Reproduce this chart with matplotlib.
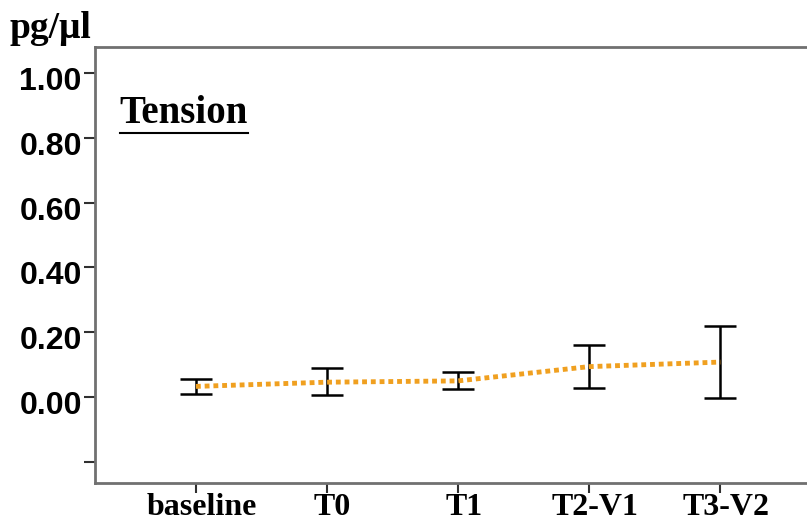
import matplotlib
matplotlib.use("Agg")
import matplotlib.pyplot as plt
from matplotlib.lines import Line2D
from matplotlib.transforms import ScaledTranslation

# values
timepoints = ["baseline", "T0", "T1", "T2-V1", "T3-V2"]
means = [0.033, 0.046, 0.050, 0.094, 0.108]
upper = [0.055, 0.089, 0.077, 0.160, 0.220]
lower = [0.009, 0.006, 0.025, 0.028, -0.004]
yticks = [-0.2, 0.0, 0.2, 0.4, 0.6, 0.8, 1.0]
ytick_labels = ["", "0.00", "0.20", "0.40", "0.60", "0.80", "1.00"]

fig = plt.figure(figsize=(8.07, 5.25), dpi=100)
ax = fig.add_axes([0.1177, 0.08, 0.9, 0.8305])

x = list(range(len(timepoints)))
err_lo = [m - l for m, l in zip(means, lower)]
err_hi = [u - m for m, u in zip(means, upper)]

ax.errorbar(x, means, yerr=[err_lo, err_hi], fmt="none", ecolor="black",
            elinewidth=1.8, capsize=11.5, capthick=1.8, zorder=2)
ax.plot(x, means, linestyle=(0, (1, 0.8)), color="#F0A020", linewidth=3.5, zorder=3)

ax.set_xlim(-0.77, 4.77)
ax.set_ylim(-0.265, 1.08)
ax.set_xticks(x)
ax.set_xticklabels(timepoints, fontfamily="Liberation Serif", fontweight="bold", fontsize=23)
ax.set_yticks(yticks)
ax.set_yticklabels(ytick_labels, fontfamily="Liberation Sans", fontweight="bold", fontsize=23)
ax.tick_params(axis="both", direction="out", width=1.5, color="#303030")
ax.tick_params(axis="y", length=8, pad=1.5)
ax.tick_params(axis="x", length=7, pad=0)

# small shifts of the tick labels as in the reference
for lab in ax.get_yticklabels():
    lab.set_transform(lab.get_transform() + ScaledTranslation(0, -4 / 72, fig.dpi_scale_trans))
for lab in ax.get_xticklabels():
    lab.set_transform(lab.get_transform() + ScaledTranslation(4 / 72, 0, fig.dpi_scale_trans))

for side in ["left", "bottom", "top", "right"]:
    ax.spines[side].set_color("#707070")
    ax.spines[side].set_linewidth(2)

fig.text(0.012, 0.928, "pg/\u03bcl", fontfamily="Liberation Serif", fontweight="bold",
         fontsize=27, ha="left", va="baseline")
t = ax.text(0.034, 0.826, "Tension", transform=ax.transAxes, fontfamily="Liberation Serif",
            fontweight="bold", fontsize=28, ha="left", va="baseline")

# underline for the label
fig.canvas.draw()
bb = t.get_window_extent()
W, H = fig.bbox.width, fig.bbox.height
fig.add_artist(Line2D([bb.x0 / W, bb.x1 / W], [(bb.y0 - 1) / H, (bb.y0 - 1) / H],
                      color="black", linewidth=1.5, transform=fig.transFigure))

fig.savefig("out.png", dpi=100)
